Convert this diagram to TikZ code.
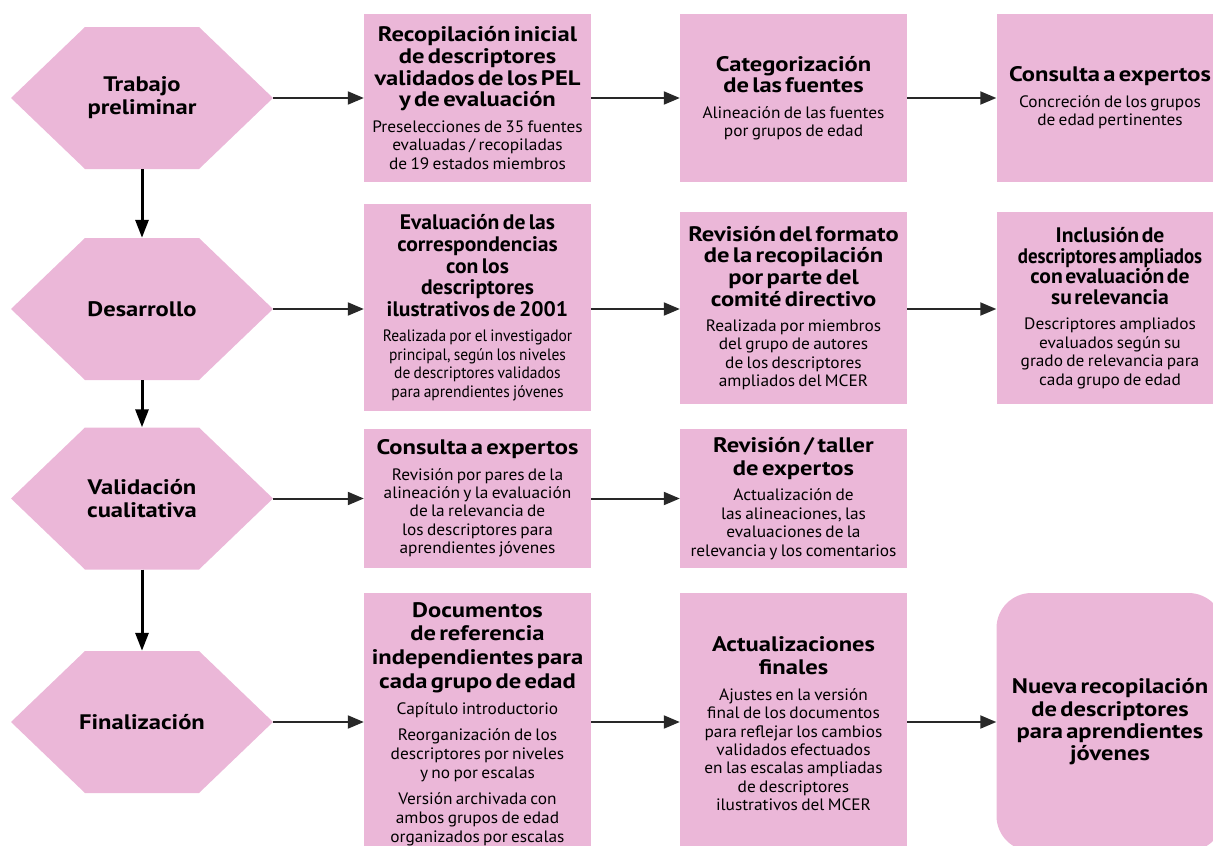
\documentclass[tikz,border=0pt]{standalone}
\usepackage{fontspec}
\setmainfont{PT Sans}
\newfontfamily\bfont[FakeStretch=1.05]{PT Sans}
\newfontfamily\bcfont[FakeStretch=0.94]{PT Sans}
\newfontfamily\tfont[FakeStretch=1.17]{PT Sans}
\newfontfamily\tcfont[FakeStretch=1.03]{PT Sans}
\usetikzlibrary{arrows.meta}
\definecolor{pinkc}{RGB}{235,183,216}
\definecolor{arrc}{RGB}{40,40,40}
\newcommand\ttl[2][21.7]{{\tfont\bfseries\fontsize{21}{#1}\selectfont #2\par}}
\newcommand\ttlc[2][21.7]{{\tcfont\bfseries\fontsize{21}{#1}\selectfont\spaceskip=0.16em #2\par}}
\newcommand\bdy[2][18.4]{{\bfont\fontsize{16.5}{#1}\selectfont #2\par}}
\newcommand\bdyc[2][18.4]{{\bcfont\fontsize{16.5}{#1}\selectfont\spaceskip=0.2em #2\par}}
\newcommand\gap{\vspace{7pt}}
\tikzset{
  box/.style={fill=pinkc, inner sep=0pt, text width=224pt, minimum width=227pt, align=center},
  hexn/.style={inner sep=0pt, minimum width=262pt, minimum height=142pt, align=center,
    font=\tfont\bfseries\fontsize{21}{23}\selectfont},
  harr/.style={draw=arrc, line width=2pt, -{Triangle[length=16pt,width=13pt]}},
  varr/.style={draw=black, line width=3pt, -{Triangle[length=18pt,width=13pt]}}
}
\newcommand\hexa[3]{%
  \fill[pinkc, shift={#2}] (-131,0) -- (-57,-71) -- (57,-71) -- (131,0) -- (57,71) -- (-57,71) -- cycle;
  \node[hexn] (#1) at #2 {#3};}
\begin{document}
\begin{tikzpicture}[x=1pt,y=-1pt]
\useasboundingbox (0,0) rectangle (1213,846);
\clip (0,0) rectangle (1213,846);
% hexagons
\hexa{h1}{(142,98)}{Trabajo\\preliminar}
\hexa{h2}{(142,309)}{Desarrollo}
\hexa{h3}{(142,498.5)}{Validación\\cualitativa}
\hexa{h4}{(142,722)}{Finalización}
% row 1
\node[box, minimum height=168pt] (b1) at (477.5,98) {\ttl{Recopilación inicial\\de descriptores\\validados de los PEL\\y de evaluación}\gap\bdy{Preselecciones de 35 fuentes\\evaluadas / recopiladas\\de 19 estados miembros}};
\node[box, minimum height=168pt] (c1) at (793.5,98) {\ttl{Categorización\\de las fuentes}\gap\bdy{Alineación de las fuentes\\por grupos de edad}};
\node[box, minimum height=168pt] (d1) at (1110,98) {\ttl{Consulta a expertos}\gap\bdy{Concreción de los grupos\\de edad pertinentes}};
% row 2
\node[box, minimum height=207pt] (b2) at (477.5,307.5) {\ttlc{Evaluación de las\\correspondencias\\con los\\descriptores\\ilustrativos de 2001}\gap\bdyc{Realizada por el investigador\\principal, según los niveles\\de descriptores validados\\para aprendientes jóvenes}};
\node[box, minimum height=192pt] (c2) at (793.5,308) {\ttl{Revisión del formato\\de la recopilación\\por parte del\\comité directivo}\gap\bdy{Realizada por miembros\\del grupo de autores\\de los descriptores\\ampliados del MCER}};
\node[box, minimum height=192pt] (d2) at (1110,308) {{\tcfont\bfseries\fontsize{21}{20.7}\selectfont\spaceskip=0.12em Inclusión de\\{\addfontfeatures{FakeStretch=0.9}descriptores ampliados}\\con evaluación de\\su relevancia\par}\gap\bdy{Descriptores ampliados\\evaluados según su\\grado de relevancia para\\cada grupo de edad}};
% row 3
\node[box, minimum height=139pt] (b3) at (477.5,498.5) {\ttl{Consulta a expertos}\gap\bdy{Revisión por pares de la\\alineación y la evaluación\\de la relevancia de\\los descriptores para\\aprendientes jóvenes}};
\node[box, minimum height=139pt] (c3) at (793.5,498.5) {\ttl[23]{Revisión / taller\\de expertos}\gap\bdy{Actualización de\\las alineaciones, las\\evaluaciones de la\\relevancia y los comentarios}};
% row 4
\node[box, minimum height=262pt] (b4) at (477.5,724) {\ttl[23.7]{Documentos\\de referencia\\independientes para\\cada grupo de edad}\gap\bdy[19]{Capítulo introductorio}\gap\bdy[19]{Reorganización de los\\descriptores por niveles\\y no por escalas}\gap\bdy[19]{Versión archivada con\\ambos grupos de edad\\organizados por escalas}};
\node[box, minimum height=262pt] (c4) at (793.5,724) {\ttl[23]{Actualizaciones\\finales}\gap\bdy{Ajustes en la versión\\final de los documentos\\para reflejar los cambios\\validados efectuados\\en las escalas ampliadas\\de descriptores\\ilustrativos del MCER}};
\node[box, minimum height=258pt, rounded corners=35pt] (d4) at (1110,722) {\ttl[22.3]{Nueva recopilación\\de descriptores\\para aprendientes\\jóvenes}};
% vertical arrows
\draw[varr] (h1.south) -- (h2.north);
\draw[varr] (h2.south) -- (h3.north);
\draw[varr] (h3.south) -- (h4.north);
% horizontal arrows
\draw[harr] (h1.east) -- (h1.east -| b1.west);
\draw[harr] (b1.east) -- (b1.east -| c1.west);
\draw[harr] (c1.east) -- (c1.east -| d1.west);
\draw[harr] (h2.east) -- (h2.east -| b2.west);
\draw[harr] (h2.east -| b2.east) -- (h2.east -| c2.west);
\draw[harr] (h2.east -| c2.east) -- (h2.east -| d2.west);
\draw[harr] (h3.east) -- (h3.east -| b3.west);
\draw[harr] (b3.east) -- (b3.east -| c3.west);
\draw[harr] (h4.east) -- (h4.east -| b4.west);
\draw[harr] (h4.east -| b4.east) -- (h4.east -| c4.west);
\draw[harr] (h4.east -| c4.east) -- (h4.east -| d4.west);
\end{tikzpicture}
\end{document}
